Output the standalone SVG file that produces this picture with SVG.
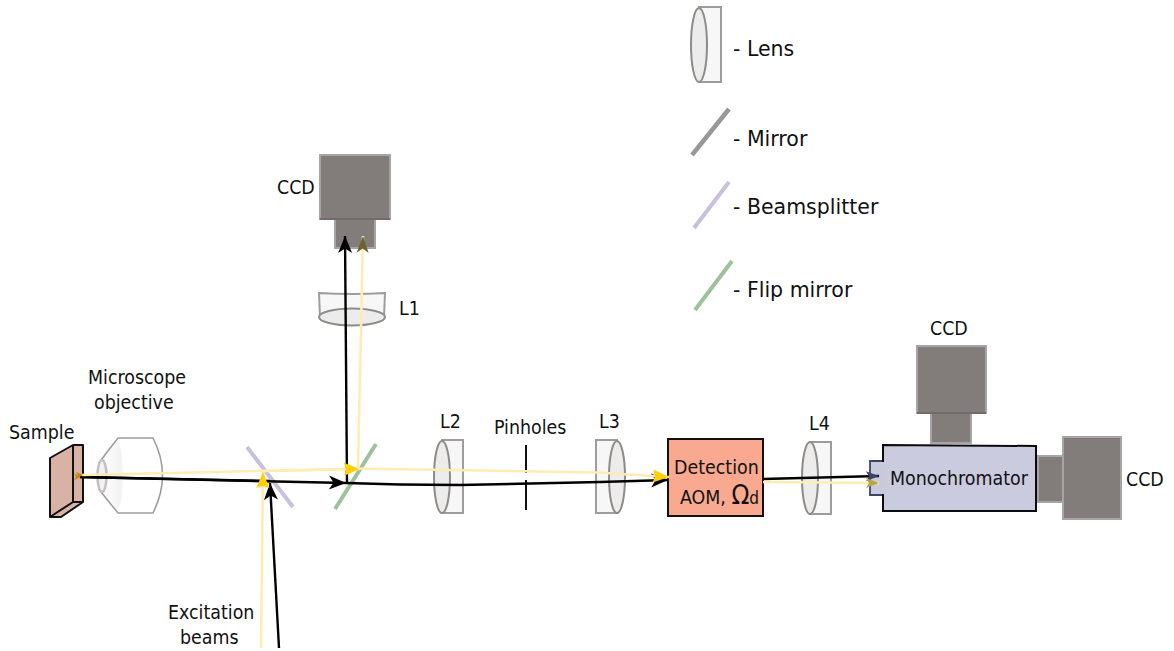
<svg xmlns="http://www.w3.org/2000/svg" width="1174" height="651" viewBox="0 0 1174 651">
<style>
text{font-family:"DejaVu Sans Condensed","DejaVu Sans",sans-serif;font-stretch:condensed;font-size:19.4px;fill:#111}
.leg{font-family:"DejaVu Sans",sans-serif;font-stretch:normal;font-size:20.5px}
.lr{fill:#f7f7f7;stroke:#a09c9b;stroke-width:2}
.le{fill:#ececec;stroke:#8f8b89;stroke-width:2}
.cam{fill:#827c7b;stroke:#a8a4a3;stroke-width:2}
.k{fill:none;stroke:#000;stroke-width:2.4}
.y{fill:none;stroke:#ffecb3;stroke-width:2.6}
</style>
<defs>
<marker id="ak" markerUnits="userSpaceOnUse" markerWidth="22" markerHeight="18" refX="18" refY="9" orient="auto"><path d="M18,9 L1,2 L5.500,9 L1,16Z" fill="#000"/></marker>
<marker id="ay" markerUnits="userSpaceOnUse" markerWidth="22" markerHeight="18" refX="18" refY="9" orient="auto"><path d="M18,9 L2,2.500 L4,9 L2,15.500Z" fill="#ffcf0a"/></marker>
<marker id="ao" markerUnits="userSpaceOnUse" markerWidth="22" markerHeight="18" refX="18" refY="9" orient="auto"><path d="M18,9 L1,3 L5.500,9 L1,15Z" fill="#6e6130"/></marker>
<marker id="an" markerUnits="userSpaceOnUse" markerWidth="20" markerHeight="16" refX="16" refY="8" orient="auto"><path d="M16,8 L3,3 L6,8 L3,13Z" fill="#3d4468"/></marker>
<marker id="aq" markerUnits="userSpaceOnUse" markerWidth="20" markerHeight="16" refX="16" refY="8" orient="auto"><path d="M16,8 L3,3 L6,8 L3,13Z" fill="#b5a748"/></marker>
<marker id="as" markerUnits="userSpaceOnUse" markerWidth="12" markerHeight="10" refX="1" refY="5" orient="auto"><path d="M0,5 L7,1.5 L5,5 L7,8.500Z" fill="#c8860a"/></marker>
<linearGradient id="og" x1="0" x2="1" y1="0" y2="0"><stop offset="0" stop-color="#f4f4f4" stop-opacity=".2"/><stop offset=".85" stop-color="#f3f3f3"/><stop offset="1" stop-color="#f6f6f6" stop-opacity=".3"/></linearGradient>
</defs>

<g id="legend">
<rect class="lr" x="699" y="7" width="22" height="75"/><ellipse class="le" cx="699" cy="45" rx="8" ry="37"/>
<text class="leg" x="733" y="56">- Lens</text>
<line x1="692" y1="155" x2="729" y2="109" stroke="#999797" stroke-width="4.5"/>
<text class="leg" x="733" y="146">- Mirror</text>
<line x1="694" y1="228" x2="729" y2="182" stroke="#c8c0dc" stroke-width="4"/>
<text class="leg" x="733" y="214">- Beamsplitter</text>
<line x1="695" y1="310" x2="732" y2="261" stroke="#9dc29b" stroke-width="4"/>
<text class="leg" x="733" y="297">- Flip mirror</text>
</g>

<g id="sample">
<path d="M50,458 L73,445 H83 V502 L61,517 H50Z" fill="#d8b2a4" stroke="#111" stroke-width="2" stroke-linejoin="round"/>
<path d="M73,445 V502 L50,517 M73,502 H83" fill="none" stroke="#111" stroke-width="2"/>
<text x="9" y="439">Sample</text>
</g>

<g id="objective">
<path d="M101,460 L118,438 H153 Q172,475 153,513 H118 L101,492Z" fill="#fff" stroke="#a09c9b" stroke-width="1.6"/>
<path d="M103,460 L118,440 Q130,476 118,511 L103,492Z" fill="url(#og)"/>
<ellipse cx="102" cy="476" rx="4.500" ry="16" fill="#f2f2f2" stroke="#c4c1c0" stroke-width="2.5"/>
<text x="88" y="384">Microscope</text>
<text x="94" y="409">objective</text>
</g>

<g id="excitation">
<text x="168" y="619">Excitation</text>
<text x="180" y="644">beams</text>
</g>

<g id="bs"><line x1="247" y1="447" x2="293" y2="507" stroke="#c8c0dc" stroke-width="4"/></g>
<g id="flip"><line x1="335" y1="509" x2="376" y2="444" stroke="#9dc29b" stroke-width="4"/></g>

<g id="l1"><path class="lr" d="M319,293 Q352,295 385,293 L384,317 H320Z"/><ellipse class="le" cx="352" cy="317" rx="33" ry="8.500"/><text x="399" y="315">L1</text></g>
<g id="l2"><rect class="lr" x="442" y="440" width="21" height="73"/><ellipse class="le" cx="442" cy="477" rx="8" ry="36"/><text x="440" y="428">L2</text></g>
<g id="l3"><rect class="lr" x="596" y="440" width="21" height="73"/><ellipse class="le" cx="617" cy="477" rx="8" ry="36"/><text x="599" y="428">L3</text></g>
<g id="l4"><rect class="lr" x="810" y="442" width="21" height="72"/><ellipse class="le" cx="810" cy="478" rx="8" ry="36"/><text x="809" y="430">L4</text></g>

<g id="pinholes">
<path d="M526,445 V510" stroke="#111" stroke-width="2" stroke-dasharray="28 7 30" fill="none"/>
<text x="494" y="434">Pinholes</text>
</g>

<g id="ccd-top"><rect class="cam" x="320" y="155" width="70" height="64"/><rect class="cam" x="335" y="219" width="40" height="29"/><path d="M320,219 H390" stroke="#5f5a59" stroke-width="1.5"/><text x="277" y="194">CCD</text></g>
<g id="ccd-mid"><rect class="cam" x="917" y="346" width="69" height="67"/><rect class="cam" x="931" y="413" width="40" height="30"/><path d="M917,413 H986" stroke="#5f5a59" stroke-width="1.5"/><text x="930" y="335">CCD</text></g>
<g id="ccd-right"><rect class="cam" x="1038" y="456" width="25" height="46"/><rect class="cam" x="1063" y="437" width="58" height="82"/><text x="1126" y="486">CCD</text></g>

<g id="aom">
<rect x="668" y="439" width="95" height="77" fill="#f9a98f" stroke="#111" stroke-width="2"/>
<text x="674" y="474">Detection</text>
<text x="680" y="504">AOM, <tspan font-size="26">Ω</tspan><tspan font-size="17">d</tspan></text>
</g>

<g id="monochromator">
<path d="M883,461 H870 V495 H883" fill="#c9cade" stroke="#3d4468" stroke-width="1.8"/>
<path d="M883,445 L1036,446 V511 L883,511Z" fill="#cbcbe0" stroke="#0b0b0b" stroke-width="2"/>
<path d="M883,462 V494" stroke="#c9cade" stroke-width="3"/>
<text x="890" y="485">Monochromator</text>
</g>

<g id="connectors">
<path class="k" d="M279,648 L270,483" marker-end="url(#ak)"/>
<path class="k" d="M270,481 L80,477" marker-end="url(#as)"/>
<path class="k" d="M80,477 L346,483" marker-end="url(#ak)"/>
<path class="k" d="M347,483 L345,236" marker-end="url(#ak)"/>
<path class="k" d="M346,483 L400,484.500 L460,485 L600,482 L668,480" marker-end="url(#ak)"/>
<path class="k" d="M763,479 L879,476" marker-end="url(#an)"/>
<path class="y" d="M261,648 L263,472" marker-end="url(#ay)"/>
<path class="y" d="M347,469 L82,475" marker-end="url(#as)"/>
<path class="y" d="M263,471 L360,469" marker-end="url(#ay)"/>
<path class="y" d="M358,469 L363,236" marker-end="url(#ao)"/>
<path class="y" d="M358,468.500 L597,472.500 L669,477" marker-end="url(#ay)"/>
<path class="y" d="M763,482 L879,483" marker-end="url(#aq)"/>
</g>
</svg>
